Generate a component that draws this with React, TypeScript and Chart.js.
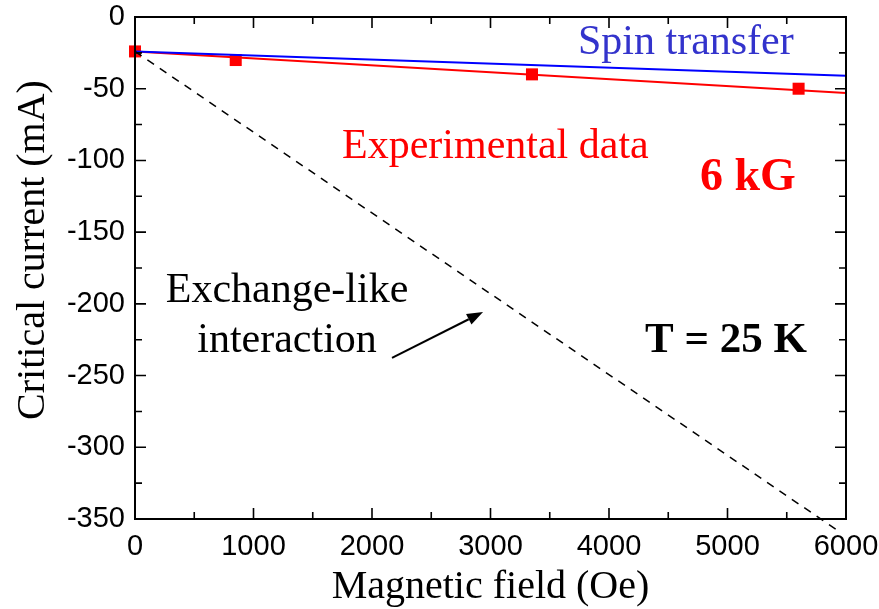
import React, { useEffect, useRef } from "react";
import { Chart, registerables } from "chart.js";

Chart.register(...registerables);

// Data (field in Oe, critical current in mA)
const expField = [0, 850, 3350, 5600];
const expCurrent = [-24, -30, -40, -50];
const fitField = [0, 6000];
const fitCurrent = [-24, -53];
const spinField = [0, 6000];
const spinCurrent = [-24, -41];
const exchField = [0, 6000];
const exchCurrent = [-24, -362];

const xTicks = [0, 1000, 2000, 3000, 4000, 5000, 6000];
const yTicks = [0, -50, -100, -150, -200, -250, -300, -350];

const xTitle = "Magnetic field (Oe)";
const yTitle = "Critical current (mA)";

const SERIF = '"Liberation Serif", "Times New Roman", serif';
const SANS = '"Liberation Sans", Arial, sans-serif';

// Annotations in data coordinates
const labels = [
  { text: "Spin transfer", x: 3738, y: -25.8, align: "left", color: "#3333cc", font: `42px ${SERIF}` },
  { text: "Experimental data", x: 1747, y: -98.3, align: "left", color: "#ff0000", font: `42px ${SERIF}` },
  { text: "6 kG", x: 4768, y: -120.6, align: "left", color: "#ff0000", font: `bold 46px ${SERIF}` },
  { text: "T = 25 K", x: 4304, y: -233.6, align: "left", color: "#000000", font: `bold 43px ${SERIF}` },
  { text: "Exchange-like", x: 1283, y: -198.7, align: "center", color: "#000000", font: `42px ${SERIF}` },
  { text: "interaction", x: 1283, y: -233.6, align: "center", color: "#000000", font: `42px ${SERIF}` },
];
const arrowFrom = { x: 2169, y: -237.7 };
const arrowTo = { x: 2937, y: -205.7 };

const toPts = (xs: number[], ys: number[]) => xs.map((x, i) => ({ x, y: ys[i] }));

const framePlugin = {
  id: "frameAndNotes",
  afterDraw(chart: any) {
    const { ctx, chartArea: a, scales } = chart;
    const xs = scales.x;
    const ys = scales.y;
    ctx.save();
    ctx.strokeStyle = "#000";
    ctx.lineWidth = 2;
    ctx.strokeRect(a.left, a.top, a.right - a.left, a.bottom - a.top);
    // inward ticks
    const major = 11;
    const minor = 7;
    ctx.lineWidth = 1.6;
    for (let v = 0; v <= 6000; v += 500) {
      const px = xs.getPixelForValue(v);
      const len = v % 1000 === 0 ? major : minor;
      ctx.beginPath();
      ctx.moveTo(px, a.bottom);
      ctx.lineTo(px, a.bottom - len);
      ctx.moveTo(px, a.top);
      ctx.lineTo(px, a.top + len);
      ctx.stroke();
    }
    for (let v = 0; v >= -350; v -= 25) {
      const py = ys.getPixelForValue(v);
      const len = v % 50 === 0 ? major : minor;
      ctx.beginPath();
      ctx.moveTo(a.left, py);
      ctx.lineTo(a.left + len, py);
      ctx.moveTo(a.right, py);
      ctx.lineTo(a.right - len, py);
      ctx.stroke();
    }
    // y axis title (rotated)
    ctx.save();
    ctx.translate(33, (a.top + a.bottom) / 2 - 18);
    ctx.rotate(-Math.PI / 2);
    ctx.font = `40px ${SERIF}`;
    ctx.fillStyle = "#000";
    ctx.textAlign = "center";
    ctx.textBaseline = "middle";
    ctx.fillText(yTitle, 0, 0);
    ctx.restore();
    // text annotations
    ctx.textBaseline = "alphabetic";
    for (const l of labels) {
      ctx.font = l.font;
      ctx.fillStyle = l.color;
      ctx.textAlign = l.align as CanvasTextAlign;
      ctx.fillText(l.text, xs.getPixelForValue(l.x), ys.getPixelForValue(l.y));
    }
    // arrow
    const x0 = xs.getPixelForValue(arrowFrom.x);
    const y0 = ys.getPixelForValue(arrowFrom.y);
    const x1 = xs.getPixelForValue(arrowTo.x);
    const y1 = ys.getPixelForValue(arrowTo.y);
    const ang = Math.atan2(y1 - y0, x1 - x0);
    const hl = 16;
    const hw = 6;
    ctx.strokeStyle = "#000";
    ctx.fillStyle = "#000";
    ctx.lineWidth = 2;
    ctx.beginPath();
    ctx.moveTo(x0, y0);
    ctx.lineTo(x1 - hl * Math.cos(ang), y1 - hl * Math.sin(ang));
    ctx.stroke();
    ctx.beginPath();
    ctx.moveTo(x1, y1);
    ctx.lineTo(x1 - hl * Math.cos(ang) + hw * Math.sin(ang), y1 - hl * Math.sin(ang) - hw * Math.cos(ang));
    ctx.lineTo(x1 - hl * Math.cos(ang) - hw * Math.sin(ang), y1 - hl * Math.sin(ang) + hw * Math.cos(ang));
    ctx.closePath();
    ctx.fill();
    ctx.restore();
  },
};

export default function App() {
  const ref = useRef<HTMLCanvasElement | null>(null);
  useEffect(() => {
    if (!ref.current) return;
    const chart = new Chart(ref.current, {
      type: "scatter",
      data: {
        datasets: [
          {
            label: "Exchange-like interaction",
            data: toPts(exchField, exchCurrent),
            showLine: true,
            borderColor: "#000000",
            borderWidth: 1.5,
            borderDash: [8, 7],
            pointRadius: 0,
            clip: 12,
          } as any,
          {
            label: "Spin transfer",
            data: toPts(spinField, spinCurrent),
            showLine: true,
            borderColor: "#0000ff",
            borderWidth: 2,
            pointRadius: 0,
          },
          {
            label: "Fit",
            data: toPts(fitField, fitCurrent),
            showLine: true,
            borderColor: "#ff0000",
            borderWidth: 2,
            pointRadius: 0,
          },
          {
            label: "Experimental data",
            data: toPts(expField, expCurrent),
            showLine: false,
            pointStyle: "rect",
            pointRadius: 8.5,
            backgroundColor: "#ff0000",
            borderColor: "#ff0000",
            borderWidth: 0,
            clip: false,
          } as any,
        ],
      },
      options: {
        animation: false,
        responsive: false,
        layout: { padding: { top: 17, right: 33, left: 0, bottom: 0 } },
        plugins: { legend: { display: false }, tooltip: { enabled: false } },
        scales: {
          x: {
            type: "linear",
            min: 0,
            max: 6000,
            afterFit: (s: any) => {
              s.height = 90;
              s.paddingLeft = 0;
              s.paddingRight = 0;
            },
            afterBuildTicks: (s: any) => {
              s.ticks = xTicks.map((v) => ({ value: v }));
            },
            grid: { display: false, drawTicks: false },
            border: { display: false },
            ticks: {
              color: "#000",
              padding: 11,
              maxRotation: 0,
              font: { family: SANS, size: 29 },
              callback: (v: any) => String(v),
            },
            title: {
              display: true,
              text: xTitle,
              color: "#000",
              font: { family: SERIF, size: 40, lineHeight: 1 },
              padding: { top: 0, bottom: 2 },
            },
          },
          y: {
            type: "linear",
            min: -350,
            max: 0,
            afterFit: (s: any) => {
              s.width = 135;
              s.paddingTop = 0;
              s.paddingBottom = 0;
            },
            afterBuildTicks: (s: any) => {
              s.ticks = yTicks.map((v) => ({ value: v }));
            },
            grid: { display: false, drawTicks: false },
            border: { display: false },
            ticks: {
              color: "#000",
              padding: 10,
              font: { family: SANS, size: 29 },
              callback: (v: any) => String(v),
            },
            title: { display: false },
          },
        },
      },
      plugins: [framePlugin],
    });
    return () => chart.destroy();
  }, []);
  return (
    <div style={{ position: "absolute", left: 0, top: 0, width: 879, height: 609, background: "#fff" }}>
      <canvas ref={ref} width={879} height={609} />
    </div>
  );
}
